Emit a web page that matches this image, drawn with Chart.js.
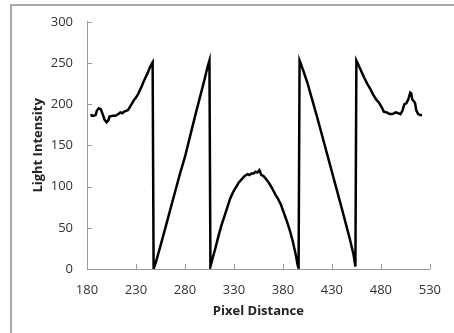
<!DOCTYPE html>
<html>
<head>
<meta charset="utf-8">
<script src="https://cdn.jsdelivr.net/npm/chart.js@4/dist/chart.umd.min.js"></script>
<style>
  html, body { margin: 0; padding: 0; background: #fff; }
  #wrap { width: 454px; height: 333px; position: relative; overflow: hidden; }
</style>
</head>
<body>
<div id="wrap"><canvas id="c" width="454" height="333"></canvas></div>
<script>
// Pixel distance (x) and light intensity (y)
const pixelDistance = [
  184,185,187,189,190,192,194,196,198,200,202,203,206,209,212,214,216,218,220,222,
  224,226,228,230,232,234,236,238,240,242,244,246,247,
  248,250,255,260,265,270,275,280,285,290,295,300,303,305,
  306,308,311,314,317,320,323,326,329,332,335,338,341,344,346,348,350,352,354,356,
  358,360,363,366,369,372,375,378,381,384,387,390,393,395,396,
  397,398,401,405,410,415,420,425,430,435,440,444,448,452,454,
  455,457,460,463,466,469,472,475,478,481,483,486,489,492,495,498,500,502,504,506,
  508,510,511,512,514,515,516,518,520,522
];
const lightIntensity = [
  188,186,186,187,192,195,194,188,181,178,181,185,186,186,188,190,189,191,192,193,
  197,201,205,208,212,217,222,228,233,238,244,249,251,
  0,7,28,50,72,94,116,136,160,184,207,230,245,253,
  3,12,25,39,52,63,74,85,93,99,105,109,113,115,114,116,116,118,117,120,
  114,113,109,104,98,91,85,78,68,58,47,34,18,5,1,
  253,250,240,226,205,184,162,140,118,96,74,56,38,18,3,
  253,248,240,232,225,219,212,206,202,196,191,190,188,188,190,189,188,192,200,201,
  206,214,213,206,203,201,193,188,187,187
];
const xTicks = [180,230,280,330,380,430,480,530];
const yTicks = [0,50,100,150,200,250,300];

const points = pixelDistance.map((x, i) => ({ x: x, y: lightIntensity[i] }));

const decorations = {
  id: 'decorations',
  afterDraw(chart) {
    const ctx = chart.ctx;
    const xs = chart.scales.x, ys = chart.scales.y;
    const area = chart.chartArea;
    ctx.save();
    // outer frame (left and top edges only)
    ctx.strokeStyle = '#a8a8a8';
    ctx.lineWidth = 2;
    ctx.beginPath();
    ctx.moveTo(11, 333);
    ctx.lineTo(11, 5);
    ctx.lineTo(454, 5);
    ctx.stroke();
    // inward tick marks
    ctx.strokeStyle = '#999999';
    ctx.lineWidth = 1;
    ctx.beginPath();
    xTicks.forEach(v => {
      const px = Math.round(xs.getPixelForValue(v)) + 0.5;
      ctx.moveTo(px, area.bottom);
      ctx.lineTo(px, area.bottom - 5);
    });
    yTicks.forEach(v => {
      const py = Math.round(ys.getPixelForValue(v)) + 0.5;
      ctx.moveTo(area.left, py);
      ctx.lineTo(area.left + 5, py);
    });
    ctx.stroke();
    ctx.restore();
  }
};

new Chart(document.getElementById('c'), {
  type: 'scatter',
  data: {
    datasets: [{
      data: points,
      showLine: true,
      borderColor: '#000000',
      borderWidth: 2.5,
      pointRadius: 0,
      tension: 0,
      fill: false
    }]
  },
  options: {
    responsive: false,
    animation: false,
    devicePixelRatio: 1,
    layout: { padding: { left: 0, right: 17, top: 20, bottom: 0 } },
    plugins: { legend: { display: false }, tooltip: { enabled: false } },
    scales: {
      x: {
        type: 'linear',
        min: 180, max: 530,
        afterBuildTicks(scale) { scale.ticks = xTicks.map(v => ({ value: v })); },
        afterFit(scale) { scale.height = 64; },
        grid: { display: true, drawOnChartArea: false, drawTicks: false, color: '#999999' },
        border: { display: true, color: '#999999', width: 1 },
        ticks: { padding: 13, color: '#333333', font: { family: 'Open Sans', size: 13 } },
        title: {
          display: true, text: 'Pixel Distance', color: '#222222',
          font: { family: 'Open Sans', size: 13, weight: 'bold' },
          padding: { top: 14, bottom: 14 }
        }
      },
      y: {
        type: 'linear',
        min: 0, max: 300,
        afterBuildTicks(scale) { scale.ticks = yTicks.map(v => ({ value: v })); },
        afterFit(scale) { scale.width = 87; },
        grid: { display: true, drawOnChartArea: false, drawTicks: false, color: '#999999' },
        border: { display: true, color: '#999999', width: 1 },
        ticks: { padding: 14, color: '#333333', font: { family: 'Open Sans', size: 13 } },
        title: {
          display: true, text: 'Light Intensity', color: '#222222',
          font: { family: 'Open Sans', size: 13, weight: 'bold' },
          padding: { top: 30, bottom: 30 }
        }
      }
    }
  },
  plugins: [decorations]
});
</script>
</body>
</html>
